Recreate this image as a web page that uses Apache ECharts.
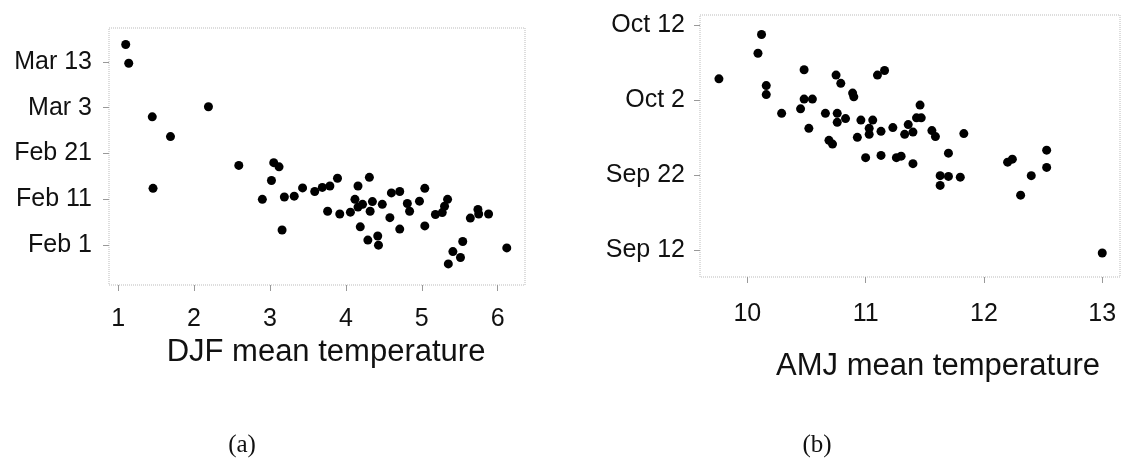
<!DOCTYPE html>
<html>
<head>
<meta charset="utf-8">
<script src="https://cdn.jsdelivr.net/npm/echarts@6/dist/echarts.min.js"></script>
<style>
  html, body { margin: 0; padding: 0; background: #fff; }
  #chart { width: 1121px; height: 459px; }
</style>
</head>
<body>
<div id="chart"></div>
<script>
// (a) DJF mean temperature vs date (day of year)
const djfTemp = [1.10, 1.14, 1.45, 1.69, 2.19, 1.46, 2.59, 3.05, 3.12, 3.02,
  2.90, 3.19, 3.32, 3.43, 3.59, 3.69, 3.79, 3.89, 3.16, 3.76,
  3.92, 4.06, 4.16, 4.31, 4.12, 4.22, 4.16, 4.35, 4.32, 4.48,
  4.19, 4.29, 4.42, 4.43, 4.60, 4.71, 4.58, 4.81, 4.84, 4.71,
  5.04, 4.97, 5.04, 5.18, 5.27, 5.30, 5.34, 5.64, 5.74, 5.75,
  5.88, 5.54, 5.41, 5.51, 5.35, 6.12];
const djfDay = [75.8, 71.7, 60.0, 55.7, 62.2, 44.4, 49.4, 50.0, 49.1, 46.1,
  42.0, 42.5, 42.7, 44.5, 43.7, 44.6, 44.9, 46.6, 35.3, 39.4,
  38.8, 39.2, 44.9, 46.8, 42.0, 40.9, 40.3, 41.5, 39.4, 40.9,
  36.0, 33.1, 34.0, 32.0, 43.4, 43.7, 38.0, 41.1, 39.4, 35.5,
  44.4, 41.6, 36.2, 38.7, 39.1, 40.5, 42.0, 37.9, 39.8, 38.8,
  38.8, 32.8, 30.6, 29.3, 27.9, 31.4];

// (b) AMJ mean temperature vs date (day of year)
const amjTemp = [9.76, 10.12, 10.09, 10.16, 10.16, 10.29, 10.48, 10.48, 10.55, 10.45,
  10.52, 10.66, 10.76, 10.76, 10.83, 10.75, 10.79, 10.89, 10.90, 10.69,
  10.72, 10.93, 10.96, 11.06, 11.03, 11.03, 11.10, 11.16, 11.13, 11.23,
  11.36, 11.40, 11.33, 11.46, 11.43, 11.47, 11.56, 11.59, 11.83, 11.00,
  11.13, 11.26, 11.30, 11.40, 11.70, 11.63, 11.70, 11.63, 11.80, 12.20,
  12.24, 12.53, 12.53, 12.40, 12.31, 13.00];
const amjDay = [277.8, 283.7, 281.2, 276.9, 275.7, 273.2, 279.0, 275.1, 275.1, 273.8,
  271.2, 273.2, 273.2, 272.0, 272.5, 278.3, 277.2, 275.9, 275.4, 269.6,
  269.1, 270.0, 272.3, 272.3, 271.2, 270.4, 278.3, 278.9, 270.8, 271.3,
  271.7, 270.7, 270.4, 274.3, 272.6, 272.6, 270.9, 270.1, 270.5, 267.3,
  267.6, 267.3, 267.5, 266.5, 267.9, 264.9, 264.8, 263.6, 264.7, 266.7,
  267.1, 268.3, 266.0, 264.9, 262.3, 254.6];

// tick labels
const djfTempTicks = [1, 2, 3, 4, 5, 6];
const amjTempTicks = [10, 11, 12, 13];
const djfDayTicks = [32, 42, 52, 62, 72];
const djfDayNames = ['Feb 1', 'Feb 11', 'Feb 21', 'Mar 3', 'Mar 13'];
const amjDayTicks = [255, 265, 275, 285];
const amjDayNames = ['Sep 12', 'Sep 22', 'Oct 2', 'Oct 12'];

const FONT = '"Liberation Sans", Arial, Helvetica, sans-serif';
const INK = '#111';

function zip(xs, ys) {
  return xs.map((x, i) => [x, ys[i]]);
}

function xAxisFor(idx, min, max, ticks, name, gap, shift, margin) {
  return {
    type: 'value', gridIndex: idx, min: min, max: max,
    axisLine: {show: false},
    splitLine: {show: false},
    axisTick: {show: true, customValues: ticks, length: 6, lineStyle: {color: '#999'}},
    axisLabel: {customValues: ticks, fontSize: 25, color: INK, fontFamily: FONT, margin: margin},
    name: name, nameLocation: 'middle', nameGap: gap,
    nameTextStyle: {fontSize: 31, color: INK, fontFamily: FONT, padding: [0, 0, 0, shift * 2]}
  };
}

function yAxisFor(idx, min, max, ticks, names, margin) {
  return {
    type: 'value', gridIndex: idx, min: min, max: max,
    axisLine: {show: false},
    splitLine: {show: false},
    axisTick: {show: true, customValues: ticks, length: 6, lineStyle: {color: '#999'}},
    axisLabel: {
      customValues: ticks, fontSize: 25, color: INK, fontFamily: FONT, margin: margin,
      formatter: v => names[ticks.indexOf(v)] || ''
    }
  };
}

const chart = echarts.init(document.getElementById('chart'));

const option = {
  backgroundColor: '#fff',
  animation: false,
  grid: [
    {left: 109, top: 28, width: 416, height: 257, show: true,
      borderColor: '#bbb', borderWidth: 1, borderType: 'dotted'},
    {left: 700, top: 15, width: 420, height: 262, show: true,
      borderColor: '#bbb', borderWidth: 1, borderType: 'dotted'}
  ],
  xAxis: [
    xAxisFor(0, 0.88, 6.36, djfTempTicks, 'DJF mean temperature', 49, 9, 22),
    xAxisFor(1, 9.6, 13.15, amjTempTicks, 'AMJ mean temperature', 74, 28, 25)
  ],
  yAxis: [
    yAxisFor(0, 23.3, 79.4, djfDayTicks, djfDayNames, 17),
    yAxisFor(1, 251.4, 286.3, amjDayTicks, amjDayNames, 15)
  ],
  series: [
    {type: 'scatter', xAxisIndex: 0, yAxisIndex: 0, symbolSize: 9,
      itemStyle: {color: '#000', opacity: 1}, data: zip(djfTemp, djfDay)},
    {type: 'scatter', xAxisIndex: 1, yAxisIndex: 1, symbolSize: 9,
      itemStyle: {color: '#000', opacity: 1}, data: zip(amjTemp, amjDay)}
  ],
  graphic: [
    {type: 'text', x: 242, y: 445,
      style: {text: '(a)', fill: INK, font: '25px "Liberation Serif", "Times New Roman", serif',
        align: 'center', verticalAlign: 'middle'}},
    {type: 'text', x: 817, y: 445,
      style: {text: '(b)', fill: INK, font: '25px "Liberation Serif", "Times New Roman", serif',
        align: 'center', verticalAlign: 'middle'}}
  ]
};

chart.setOption(option);
</script>
</body>
</html>
